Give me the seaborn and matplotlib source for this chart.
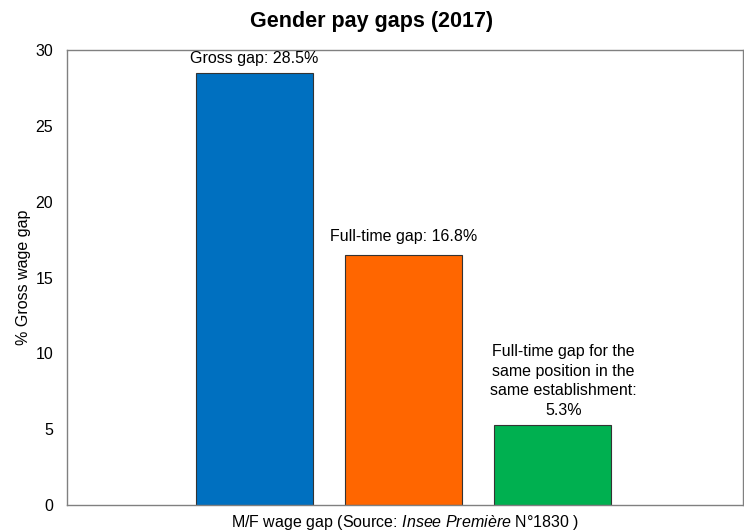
import matplotlib
matplotlib.use("Agg")
import matplotlib.pyplot as plt
import seaborn as sns
import pandas as pd

categories = ["Gross gap", "Full-time gap", "Full-time gap same position"]
values = [28.5, 16.5, 5.3]
labels = ["Gross gap: 28.5%", "Full-time gap: 16.8%",
          "Full-time gap for the\nsame position in the\nsame establishment:\n5.3%"]
colors = ["#0070C0", "#FF6600", "#00B050"]
yticks = [0, 5, 10, 15, 20, 25, 30]

sns.set_theme(style="white")
plt.rcParams["font.family"] = ["Liberation Sans", "DejaVu Sans"]
plt.rcParams["mathtext.fontset"] = "custom"
plt.rcParams["mathtext.rm"] = "Liberation Sans"
plt.rcParams["mathtext.it"] = "Liberation Sans:italic"

df = pd.DataFrame({"cat": categories, "val": values})

fig = plt.figure(figsize=(7.44, 5.32), dpi=100)
ax = fig.add_axes([67 / 744, 27 / 532, 676 / 744, 455 / 532])
sns.barplot(data=df, x="cat", y="val", hue="cat", palette=colors, dodge=False,
            saturation=1, width=0.785, edgecolor="#333333", linewidth=0.8,
            legend=False, ax=ax)

ax.set_xlim(-1.258, 3.278)
ax.set_ylim(0, 30)
ax.set_yticks(yticks)
ax.set_xticks([])
ax.tick_params(axis="y", length=0, labelsize=11.5, pad=10, colors="black")
for s in ax.spines.values():
    s.set_color("#808080")
    s.set_linewidth(1.0)

for i, (v, lab) in enumerate(zip(values, labels)):
    dx = 8 if i == 2 else 0
    dy = 8 if i == 1 else 5
    ax.annotate(lab, (i, v), xytext=(dx, dy), textcoords="offset points",
                ha="center", va="bottom", fontsize=11.5, linespacing=1.38,
                color="black")

ax.set_ylabel("% Gross wage gap", fontsize=11.5, labelpad=3, color="black")
ax.set_xlabel(r"M/F wage gap (Source: $\it{Insee\ Première}$ N°1830 )",
              fontsize=11.5, labelpad=6, color="black")
fig.suptitle("Gender pay gaps (2017)", fontsize=15.5, fontweight="bold",
             y=1 - 22 / 532, va="center", color="black")

fig.savefig("out.png", dpi=100)
